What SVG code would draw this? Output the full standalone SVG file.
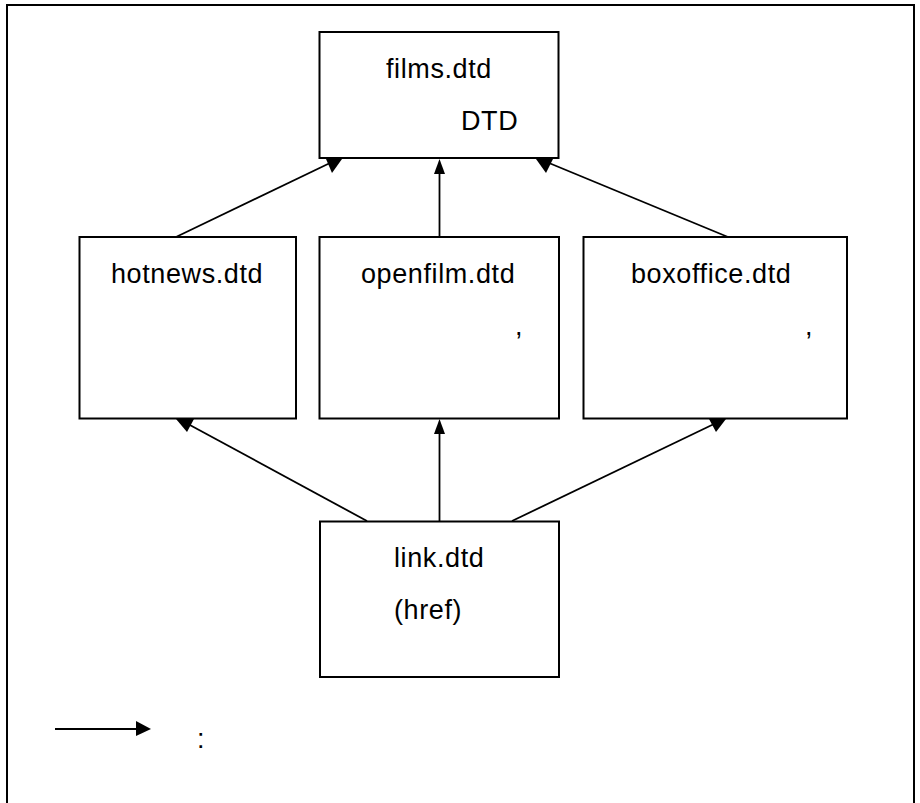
<svg xmlns="http://www.w3.org/2000/svg" width="920" height="803" viewBox="0 0 920 803">
<style>
.box{fill:#fff;stroke:#000;stroke-width:2}
.ln{stroke:#000;stroke-width:1.8;fill:none}
.hd{fill:#000;stroke:none}
text{font-family:"Liberation Sans",Arial,sans-serif;font-size:27px;letter-spacing:0.6px;fill:#000}
</style>
<rect x="0" y="0" width="920" height="803" fill="#fff"/>
<rect x="7" y="5" width="907" height="810" fill="none" stroke="#000" stroke-width="2"/>
<g id="connectors">
<line class="ln" x1="176" y1="237" x2="330" y2="163"/>
<polygon class="hd" points="326,159 342,159 332,173"/>
<line class="ln" x1="439.5" y1="237" x2="439.5" y2="170"/>
<polygon class="hd" points="439.5,159 434,174 445,174"/>
<line class="ln" x1="728" y1="237" x2="549" y2="163"/>
<polygon class="hd" points="536,159 553,159 546,173"/>
<line class="ln" x1="367" y1="521" x2="188" y2="424"/>
<polygon class="hd" points="176,419 194,419 187,432"/>
<line class="ln" x1="439.5" y1="521" x2="439.5" y2="430"/>
<polygon class="hd" points="439.5,419 434,434 445,434"/>
<line class="ln" x1="512" y1="521" x2="714" y2="424"/>
<polygon class="hd" points="709,419 726,419 716,432"/>
<line x1="55" y1="729" x2="138" y2="729" stroke="#000" stroke-width="2"/>
<polygon class="hd" points="151,729 136,721 136,736"/>
</g>
<g id="films">
<rect class="box" x="319.5" y="32" width="239" height="126"/>
<text x="386" y="78">films.dtd</text>
<text x="461" y="130">DTD</text>
</g>
<g id="hotnews">
<rect class="box" x="79.5" y="237" width="216.5" height="181.5"/>
<text x="111" y="283">hotnews.dtd</text>
</g>
<g id="openfilm">
<rect class="box" x="319.5" y="237" width="239.5" height="181.5"/>
<text x="361" y="283">openfilm.dtd</text>
<text x="515" y="335">,</text>
</g>
<g id="boxoffice">
<rect class="box" x="583.5" y="237" width="263.5" height="181.5"/>
<text x="631" y="283">boxoffice.dtd</text>
<text x="805" y="335">,</text>
</g>
<g id="link">
<rect class="box" x="320" y="521.5" width="239" height="155.5"/>
<text x="394" y="567">link.dtd</text>
<text x="394" y="619">(href)</text>
</g>
<g id="legend">
<text x="197" y="748">:</text>
</g>
</svg>
